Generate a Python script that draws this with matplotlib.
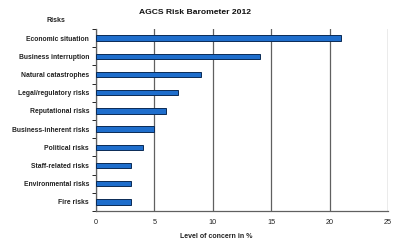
import matplotlib
matplotlib.use("Agg")
import matplotlib.pyplot as plt
import numpy as np

risks = ["Economic situation", "Business interruption", "Natural catastrophes",
         "Legal/regulatory risks", "Reputational risks", "Business-inherent risks",
         "Political risks", "Staff-related risks", "Environmental risks", "Fire risks"]
concern = [21, 14, 9, 7, 6, 5, 4, 3, 3, 3]
xticks = [0, 5, 10, 15, 20, 25]

plt.rcParams['font.family'] = ['Liberation Sans', 'DejaVu Sans']

fig = plt.figure(figsize=(4, 2.46), dpi=100)
ax = fig.add_axes([96/400, 1 - 211/246, 292/400, 182/246])

y = np.arange(len(risks))
ax.barh(y, concern, height=0.3, color="#1f6ecc", edgecolor="#0a2a55", linewidth=0.7, zorder=3)
ax.set_ylim(len(risks) - 0.5, -0.5)
ax.set_xlim(0, 25)

ax.set_yticks(y)
ax.set_yticklabels(risks, fontsize=4.9, fontweight="bold", color="#222222")
ax.set_yticks(np.arange(-0.5, len(risks), 1), minor=True)
ax.tick_params(axis="y", which="major", length=0, pad=5)
ax.tick_params(axis="y", which="minor", length=3, width=0.6, direction="out")
ax.set_xticks(xticks)
ax.set_xticklabels([str(t) for t in xticks], fontsize=5.2, color="#222222")
ax.tick_params(axis="x", length=0, pad=6)

ax.xaxis.grid(True, color="#606060", linewidth=0.9, zorder=0)
for s in ["top", "right"]:
    ax.spines[s].set_visible(False)
ax.spines["left"].set_color("#606060")
ax.spines["bottom"].set_color("#606060")
ax.spines["left"].set_linewidth(0.9)
ax.spines["bottom"].set_linewidth(0.9)

fig.text(216/400, 1 - 236/246, "Level of concern in %", ha="center", va="center",
         fontsize=5.0, fontweight="bold", color="#222222")
fig.text(195/400, 1 - 12/246, "AGCS Risk Barometer 2012", ha="center", va="center",
         fontsize=6.1, fontweight="bold", color="#111111")
fig.text(56/400, 1 - 20/246, "Risks", ha="center", va="center", fontsize=5.0,
         fontweight="bold", color="#222222")

fig.savefig("out.png", dpi=100)
